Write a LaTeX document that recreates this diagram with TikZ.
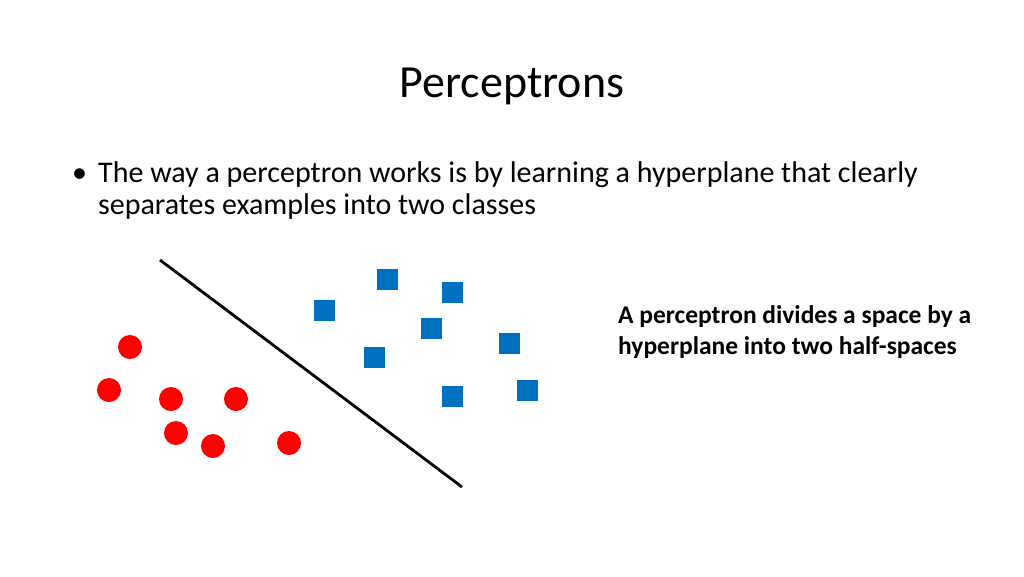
\documentclass[tikz,border=0pt]{standalone}
\usepackage{fontspec}
\setmainfont{Carlito}
\tikzset{
  % red class and blue class
  redpt/.style={circle,fill={rgb,255:red,255;green,0;blue,0},inner sep=0pt,minimum size=24},
  bluept/.style={rectangle,fill={rgb,255:red,0;green,112;blue,192},inner sep=0pt,minimum size=21},
  line/.style={anchor=base west,inner sep=0},
}
\begin{document}
\begin{tikzpicture}[x=1pt,y=-1pt]
\useasboundingbox (0,0) rectangle (1024,576);

% Title
\node (title) at (512,86) {\fontsize{46}{54}\selectfont Perceptrons};

% Bullet
\node (bul) [line] at (72,182) {\fontsize{30}{36}\selectfont •};
\node (txt1) [line] at (98,182)
  {\fontsize{30}{36}\selectfont The way a perceptron works is by learning a hyperplane that clearly};
\node (txt2) [line] at (98,214)
  {\fontsize{30}{36}\selectfont separates examples into two classes};

% Points
\foreach \x/\y [count=\i] in {130/347,109/390,171/399,236/399,176/433,213/446,289/443}
  \node[redpt] (r\i) at (\x,\y) {};
\foreach \x/\y [count=\i] in {387/279,452/292,324/310,431/328,509/343,374/357,452/396,527/390}
  \node[bluept] (b\i) at (\x,\y) {};

% Hyperplane
\coordinate (h1) at (160,260);
\coordinate (h2) at (462,487);
\draw[line width=2.8] (h1) -- (h2);

% Side note
\node (note1) [line] at (618,323)
  {\fontsize{25.5}{30}\selectfont\bfseries A perceptron divides a space by a};
\node (note2) [line] at (618,354)
  {\fontsize{25.5}{30}\selectfont\bfseries hyperplane into two half-spaces};
\end{tikzpicture}
\end{document}
